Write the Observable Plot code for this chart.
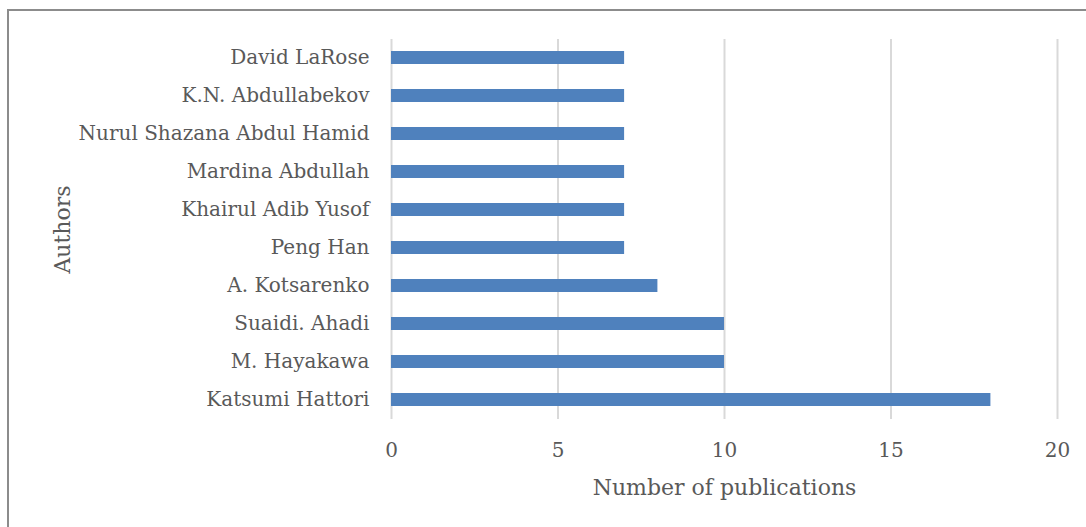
<!DOCTYPE html>
<html>
<head>
<meta charset="utf-8">
<script src="https://cdn.jsdelivr.net/npm/d3@7"></script>
<script src="https://cdn.jsdelivr.net/npm/@observablehq/plot@0.6"></script>
<style>
  html, body { margin: 0; padding: 0; background: #fff; }
  #wrap { position: relative; width: 1086px; height: 527px; overflow: hidden; }
  #frame { position: absolute; left: 7px; top: 9px; width: 1200px; height: 600px; border-left: 2px solid #8c8c8c; border-top: 2px solid #8c8c8c; pointer-events: none; }
  #chart { position: absolute; left: 0; top: 0; }
</style>
</head>
<body>
<div id="wrap"><div id="chart"></div><div id="frame"></div></div>
<script>
const authors = ["David LaRose", "K.N. Abdullabekov", "Nurul Shazana Abdul Hamid", "Mardina Abdullah", "Khairul Adib Yusof", "Peng Han", "A. Kotsarenko", "Suaidi. Ahadi", "M. Hayakawa", "Katsumi Hattori"];
const publications = [7, 7, 7, 7, 7, 7, 8, 10, 10, 18];
const xTicks = [0, 5, 10, 15, 20];
const xLabel = "Number of publications";
const yLabel = "Authors";

const data = authors.map((a, i) => ({author: a, count: publications[i]}));
const font = "'DejaVu Serif', serif";

const plot = Plot.plot({
  width: 1086,
  height: 527,
  marginLeft: 391,
  marginRight: 29,
  marginTop: 39,
  marginBottom: 108,
  style: {fontFamily: font, fontSize: "20px", color: "#595959", background: "transparent"},
  x: {domain: [0, 20], ticks: xTicks, label: null},
  y: {domain: authors, paddingInner: 0.65, paddingOuter: 0.325, label: null},
  marks: [
    Plot.ruleX(xTicks, {stroke: "#d9d9d9", strokeWidth: 2, strokeOpacity: 1}),
    Plot.barX(data, {x: "count", y: "author", fill: "#4f81bd"}),
    Plot.axisX({ticks: xTicks, tickSize: 0, tickPadding: 23, label: null, fontSize: 20, fill: "#595959"}),
    Plot.axisY({tickSize: 0, tickPadding: 22, label: null, fontSize: 20, fill: "#595959"}),
    Plot.text([yLabel], {frameAnchor: "left", dx: -329, rotate: -90, textAnchor: "middle", lineAnchor: "middle", fontSize: 22, fill: "#595959"}),
    Plot.text([xLabel], {frameAnchor: "bottom", dy: 75, textAnchor: "middle", fontSize: 22, fill: "#595959"})
  ]
});
document.getElementById("chart").appendChild(plot);
</script>
</body>
</html>
